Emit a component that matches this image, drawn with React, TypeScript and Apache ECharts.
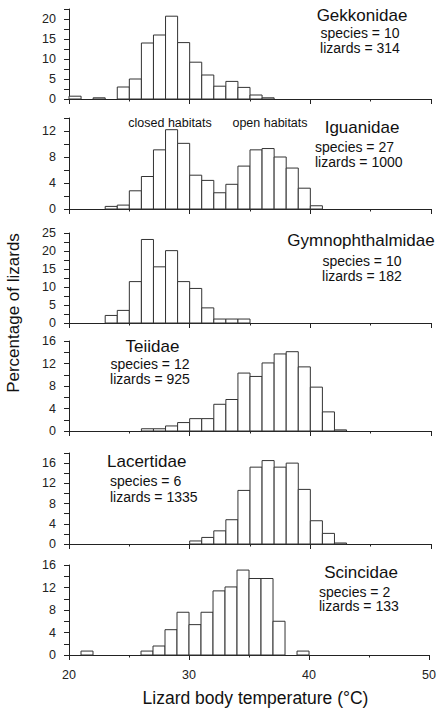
import React, { useEffect, useRef } from "react";
import * as echarts from "echarts";

// ---- Data ----
const binStarts = [20, 21, 22, 23, 24, 25, 26, 27, 28, 29, 30, 31, 32, 33, 34, 35, 36, 37, 38, 39, 40, 41, 42, 43, 44, 45, 46, 47, 48, 49];
const BIN_WIDTH = 1;

const gekkonidae = [0.7, 0, 0.3, 0, 3, 5, 14, 16, 20.7, 14.1, 9.2, 6, 3.2, 4.4, 2.9, 1, 0.3, 0, 0, 0, 0, 0, 0, 0, 0, 0, 0, 0, 0, 0];
const iguanidae = [0, 0, 0, 0.4, 0.6, 2.8, 5, 9.1, 12.2, 10.1, 5.2, 4.4, 2.5, 3.8, 6.6, 9.1, 9.3, 8, 6.3, 3.2, 0.5, 0, 0, 0, 0, 0, 0, 0, 0, 0];
const gymnophthalmidae = [0, 0, 0, 2.1, 3.5, 11.5, 23.2, 15.6, 20.1, 11.5, 9.6, 4.2, 1.1, 1.1, 1.1, 0, 0, 0, 0, 0, 0, 0, 0, 0, 0, 0, 0, 0, 0, 0];
const teiidae = [0, 0, 0, 0, 0, 0, 0.4, 0.4, 0.9, 1.5, 2.2, 2.2, 4.75, 5.6, 10.3, 9.7, 12.1, 13.7, 14.1, 11.4, 7.8, 3.4, 0.2, 0, 0, 0, 0, 0, 0, 0];
const lacertidae = [0, 0, 0, 0, 0, 0, 0, 0, 0, 0, 0.6, 1.3, 2.6, 4.8, 10.6, 15.2, 16.5, 15.2, 16, 10.8, 4.6, 2.1, 0.2, 0, 0, 0, 0, 0, 0, 0];
const scincidae = [0, 0.7, 0, 0, 0, 0, 0.7, 1.6, 4.5, 7.6, 5.4, 7.6, 11.4, 12.1, 15.1, 13.6, 13.6, 6.0, 0, 0.7, 0, 0, 0, 0, 0, 0, 0, 0, 0, 0];

const families = ["Gekkonidae", "Iguanidae", "Gymnophthalmidae", "Teiidae", "Lacertidae", "Scincidae"];
const speciesCounts = [10, 27, 10, 12, 6, 2];
const lizardCounts = [314, 1000, 182, 925, 1335, 133];
const seriesValues = [gekkonidae, iguanidae, gymnophthalmidae, teiidae, lacertidae, scincidae];

// y-axis scale per panel
const yMax = [22.5, 14, 25, 16, 18, 16];
const yTickStep = [2.5, 2, 2.5, 2, 2, 2];
const yLabelStep = [5, 4, 5, 4, 4, 4];

const xTickLabels = [20, 30, 40, 50];
const habitatLabels = ["closed habitats", "open habitats"];
const xAxisTitle = "Lizard body temperature (°C)";
const yAxisTitle = "Percentage of lizards";

// ---- Layout (positions / styles) ----
const FONT = "'Liberation Sans', Arial, Helvetica, sans-serif";
const gridTops = [9, 118, 233, 341, 453, 565];
const gridHeights = [90, 91, 90, 90, 91, 90];
const GRID_LEFT = 69;
const GRID_WIDTH = 362;

type Pos = { x: number; y: number; align: string };
const titlePos: Pos[] = [
  { x: 362, y: 15, align: "center" },
  { x: 362, y: 127, align: "center" },
  { x: 361, y: 240, align: "center" },
  { x: 152.5, y: 346.5, align: "center" },
  { x: 107, y: 461, align: "left" },
  { x: 361, y: 572.5, align: "center" },
];
const subPos: { x: number; y1: number; y2: number; align: string }[] = [
  { x: 360, y1: 33, y2: 47.5, align: "center" },
  { x: 315, y1: 147, y2: 162, align: "left" },
  { x: 362, y1: 261, y2: 275.5, align: "center" },
  { x: 150, y1: 364, y2: 379, align: "center" },
  { x: 110, y1: 481, y2: 496.5, align: "left" },
  { x: 319, y1: 591.5, y2: 606, align: "left" },
];
const habitatPos = [
  { x: 170, y: 123 },
  { x: 270, y: 123 },
];

function textEl(text: string, x: number, y: number, size: number, align = "center", rotation = 0) {
  return {
    type: "text",
    x,
    y,
    rotation,
    silent: true,
    style: {
      text,
      fill: "#111",
      font: `${size}px ${FONT}`,
      fontSize: size,
      fontFamily: FONT,
      align,
      verticalAlign: "middle",
      textAlign: align,
      textVerticalAlign: "middle",
    },
  };
}

export default function App() {
  const ref = useRef<HTMLDivElement>(null);

  useEffect(() => {
    if (!ref.current) return;
    const chart = echarts.init(ref.current, undefined, { renderer: "svg" });

    const grids = gridTops.map((top, i) => ({
      left: GRID_LEFT,
      width: GRID_WIDTH,
      top,
      height: gridHeights[i],
      containLabel: false,
    }));

    const last = families.length - 1;
    const xAxes = families.map((_, i) => ({
      type: "value",
      gridIndex: i,
      min: xTickLabels[0],
      max: xTickLabels[xTickLabels.length - 1],
      interval: 10,
      axisLine: { show: true, lineStyle: { color: "#222", width: 1 } },
      axisTick: { show: true, length: 5, lineStyle: { color: "#222", width: 1 } },
      minorTick: { show: true, splitNumber: 2, length: 2.5, lineStyle: { color: "#222", width: 1 } },
      splitLine: { show: false },
      minorSplitLine: { show: false },
      axisLabel: {
        show: i === last,
        margin: 13,
        fontSize: 12.5,
        fontFamily: FONT,
        color: "#222",
      },
    }));

    const yAxes = families.map((_, i) => ({
      type: "value",
      gridIndex: i,
      min: 0,
      max: yMax[i],
      interval: yTickStep[i],
      axisLine: { show: true, lineStyle: { color: "#222", width: 1 } },
      axisTick: { show: true, length: 5, lineStyle: { color: "#222", width: 1 } },
      splitLine: { show: false },
      axisLabel: {
        show: true,
        margin: 13,
        fontSize: 12.5,
        fontFamily: FONT,
        color: "#222",
        showMaxLabel: true,
        formatter: (v: number) => {
          const r = v / yLabelStep[i];
          return Math.abs(r - Math.round(r)) < 1e-6 ? String(v) : "";
        },
      },
    }));

    const series = seriesValues.map((vals, i) => ({
      type: "custom",
      xAxisIndex: i,
      yAxisIndex: i,
      data: binStarts.map((b, k) => [b, vals[k]]).filter((d) => d[1] > 0),
      renderItem: (params: any, api: any) => {
        const x0 = api.value(0);
        const v = api.value(1);
        const p0 = api.coord([x0, 0]);
        const p1 = api.coord([x0 + BIN_WIDTH, v]);
        return {
          type: "rect",
          shape: { x: p0[0], y: p1[1], width: p1[0] - p0[0], height: p0[1] - p1[1] },
          style: { fill: "#ffffff", stroke: "#333", lineWidth: 1 },
        };
      },
    }));

    const graphics: any[] = [];
    families.forEach((name, i) => {
      const t = titlePos[i];
      graphics.push(textEl(name, t.x, t.y, 17, t.align));
      const s = subPos[i];
      graphics.push(textEl(`species = ${speciesCounts[i]}`, s.x, s.y1, 14, s.align));
      graphics.push(textEl(`lizards = ${lizardCounts[i]}`, s.x, s.y2, 14, s.align));
    });
    habitatLabels.forEach((h, i) => {
      graphics.push(textEl(h, habitatPos[i].x, habitatPos[i].y, 12.5, "center"));
    });
    graphics.push(textEl(xAxisTitle, 255.5, 698, 17.5, "center"));
    graphics.push(textEl(yAxisTitle, 13, 313, 17, "center", Math.PI / 2));

    chart.setOption({
      animation: false,
      backgroundColor: "#ffffff",
      grid: grids,
      xAxis: xAxes,
      yAxis: yAxes,
      series,
      graphic: graphics,
    });

    return () => chart.dispose();
  }, []);

  return (
    <div
      ref={ref}
      style={{ position: "absolute", left: 0, top: 0, width: 439, height: 710, background: "#fff" }}
    />
  );
}
